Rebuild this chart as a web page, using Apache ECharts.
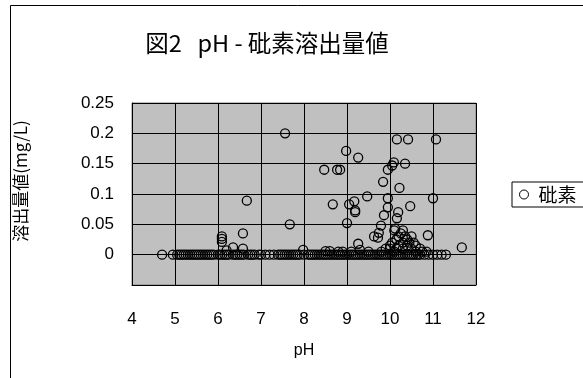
<!DOCTYPE html>
<html>
<head>
<meta charset="utf-8">
<script src="https://cdn.jsdelivr.net/npm/echarts@6/dist/echarts.min.js"></script>
<style>
  html, body { margin: 0; padding: 0; background: #fff; }
  #main { width: 583px; height: 378px; }
</style>
</head>
<body>
<div id="main"></div>
<script>
var myChart = echarts.init(document.getElementById('main'));

// pH (x) and 砒素溶出量値 mg/L (y)
let phVals = [
    4.7, 4.95, 5.05, 5.1, 5.2, 5.25, 5.3, 5.4, 5.45, 5.5, 5.6, 5.7, 5.8, 5.9, 6.0,
    6.1, 6.15, 6.25, 6.35, 6.45, 6.5, 6.6, 6.7, 6.8, 6.95, 7.1, 7.3, 7.45, 7.5, 7.6,
    7.7, 7.8, 7.9, 8.1, 8.2, 8.3, 8.4, 8.5, 8.6, 8.7, 8.8, 8.9, 9.0, 9.05, 9.1,
    9.2, 9.3, 9.35, 9.4, 9.5, 9.6, 9.65, 9.7, 9.8, 9.9, 10.0, 10.05, 10.1, 10.2, 10.25,
    10.3, 10.4, 10.5, 10.55, 10.6, 10.7, 10.8, 10.9, 11.0, 11.1, 11.2, 11.3,
    5.15, 5.35, 5.55, 5.65, 5.75, 5.85, 6.05, 6.2, 6.4, 6.55, 6.75, 6.85, 7.0, 7.2,
    7.4, 7.55, 7.65, 7.75, 7.85, 8.0, 8.15, 8.25, 8.35, 8.45, 8.55, 8.65, 8.75, 8.85,
    8.95, 9.15, 9.25, 9.45, 9.55, 9.75, 9.85, 9.95, 10.15, 10.35, 10.45, 10.65,
    6.09, 6.09, 6.09, 6.2, 6.35, 6.58, 6.67, 6.58,
    7.56, 7.67, 7.98, 8.47, 8.77, 8.84, 8.67, 8.98, 9.05, 9.0,
    8.5, 8.6, 8.8, 8.9, 9.1, 9.26, 9.17, 9.19, 9.19, 9.26,
    9.47, 9.63, 9.72, 9.74, 9.79, 9.84, 9.86, 9.95, 9.95, 9.95,
    10.05, 10.09, 10.12, 10.16, 10.16, 10.22, 10.19, 10.35, 10.42, 10.47,
    10.88, 11.0, 11.07, 11.67,
    9.8, 9.9, 10.0, 10.05, 10.1, 10.15, 10.2, 10.2, 10.25, 10.3,
    10.3, 10.35, 10.4, 10.4, 10.45, 10.5, 10.5, 10.55, 10.6, 10.6,
    10.7, 10.75, 10.85, 9.5, 9.3, 10.1, 10.3, 10.0, 10.15
];
let arsenicVals = [
    0, 0, 0, 0, 0, 0, 0, 0, 0, 0, 0, 0, 0, 0, 0,
    0, 0, 0, 0, 0, 0, 0, 0, 0, 0, 0, 0, 0, 0, 0,
    0, 0, 0, 0, 0, 0, 0, 0, 0, 0, 0, 0, 0, 0, 0,
    0, 0, 0, 0, 0, 0, 0, 0, 0, 0, 0, 0, 0, 0, 0,
    0, 0, 0, 0, 0, 0, 0, 0, 0, 0, 0, 0,
    0, 0, 0, 0, 0, 0, 0, 0, 0, 0, 0, 0, 0, 0,
    0, 0, 0, 0, 0, 0, 0, 0, 0, 0, 0, 0, 0, 0,
    0, 0, 0, 0, 0, 0, 0, 0, 0, 0, 0, 0,
    0.030, 0.026, 0.021, 0.007, 0.012, 0.035, 0.089, 0.010,
    0.200, 0.050, 0.008, 0.140, 0.140, 0.140, 0.083, 0.171, 0.083, 0.052,
    0.006, 0.006, 0.005, 0.005, 0.005, 0.160, 0.088, 0.073, 0.070, 0.018,
    0.096, 0.030, 0.028, 0.036, 0.048, 0.120, 0.065, 0.140, 0.093, 0.078,
    0.147, 0.152, 0.043, 0.190, 0.060, 0.110, 0.070, 0.150, 0.190, 0.080,
    0.032, 0.093, 0.190, 0.012,
    0.005, 0.010, 0.015, 0.020, 0.005, 0.025, 0.030, 0.015, 0.035, 0.020,
    0.010, 0.030, 0.025, 0.015, 0.020, 0.010, 0.030, 0.020, 0.015, 0.005,
    0.010, 0.005, 0.005, 0.005, 0.008, 0.040, 0.040, 0.010, 0.010
];
let xTicks = [4, 12, 1];
let yTicks = [-0.05, 0.25, 0.05];

let points = phVals.map((p, i) => [p, arsenicVals[i]]);

let latin = '"Liberation Sans", Arial, sans-serif';
let cjk = '"Noto Sans CJK JP", sans-serif';

option = {
    backgroundColor: '#fff',
    animation: false,
    graphic: [
        {
            type: 'rect',
            shape: { x: 10.5, y: 5.5, width: 700, height: 500 },
            style: { fill: 'none', stroke: '#000', lineWidth: 1 }
        },
        {
            type: 'text',
            x: 267,
            y: 43,
            style: {
                text: '図2   pH - 砒素溶出量値',
                fontFamily: cjk,
                fontSize: 23.5,
                fill: '#000',
                textAlign: 'center',
                textVerticalAlign: 'middle'
            }
        },
        {
            type: 'text',
            x: 21,
            y: 181,
            rotation: Math.PI / 2,
            style: {
                text: '溶出量値(mg/L)',
                fontFamily: cjk,
                fontSize: 17,
                fill: '#000',
                textAlign: 'center',
                textVerticalAlign: 'middle'
            }
        }
    ],
    grid: {
        left: 132,
        top: 103,
        width: 344,
        height: 182,
        show: true,
        backgroundColor: '#c0c0c0',
        borderColor: '#808080',
        borderWidth: 1
    },
    legend: {
        left: 512,
        top: 182,
        orient: 'vertical',
        backgroundColor: '#fff',
        borderColor: '#000',
        borderWidth: 1,
        borderRadius: 0,
        padding: [3, 40, 3, 7],
        icon: 'circle',
        itemWidth: 9,
        itemHeight: 9,
        itemGap: 6,
        itemStyle: { color: '#fff', borderColor: '#000', borderWidth: 1 },
        textStyle: { fontFamily: cjk, fontSize: 19, color: '#000', padding: [0, 0, 0, 5] },
        data: ['砒素']
    },
    xAxis: {
        type: 'value',
        min: xTicks[0],
        max: xTicks[1],
        interval: xTicks[2],
        name: 'pH',
        nameLocation: 'middle',
        nameGap: 58,
        nameTextStyle: { fontFamily: latin, fontSize: 16, color: '#000' },
        axisLine: { show: true, onZero: false, lineStyle: { color: '#000' } },
        axisTick: { show: false },
        axisLabel: { margin: 26, fontFamily: latin, fontSize: 17, color: '#000' },
        splitLine: { show: true, lineStyle: { color: '#000', width: 1 } }
    },
    yAxis: {
        type: 'value',
        min: yTicks[0],
        max: yTicks[1],
        interval: yTicks[2],
        axisLine: { show: true, lineStyle: { color: '#000' } },
        axisTick: { show: false },
        axisLabel: {
            margin: 18,
            fontFamily: latin,
            fontSize: 17,
            color: '#000',
            formatter: function(v) {
                if(v < -0.001) return '';
                return String(Math.round(v * 100) / 100);
            }
        },
        splitLine: { show: true, lineStyle: { color: '#000', width: 1 } }
    },
    series: [
        {
            name: '砒素',
            type: 'scatter',
            symbol: 'circle',
            symbolSize: 9,
            itemStyle: {
                color: 'rgba(0,0,0,0)',
                borderColor: '#000',
                borderWidth: 1.3,
                opacity: 1
            },
            data: points
        }
    ]
};

myChart.setOption(option);
</script>
</body>
</html>
